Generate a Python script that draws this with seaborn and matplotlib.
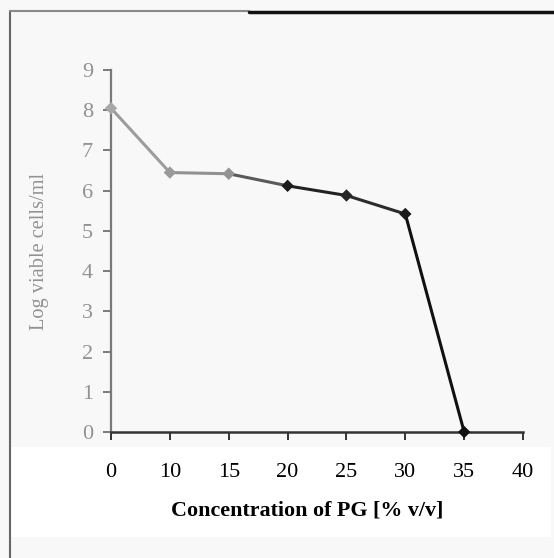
import pandas as pd
import matplotlib.pyplot as plt
import seaborn as sns
from matplotlib.lines import Line2D
from matplotlib.patches import Rectangle

# values
conc_labels = ["0", "10", "15", "20", "25", "30", "35", "40"]
log_cells = [8.05, 6.45, 6.42, 6.12, 5.88, 5.42, 0.0]
y_ticks = [0, 1, 2, 3, 4, 5, 6, 7, 8, 9]

# the scan fades from grey on the left to black on the right
seg_colors = ["#9c9c9c", "#929292", "#5a5a5a", "#222222", "#2c2c2c", "#111111"]
point_colors = ["#a8a8a8", "#9a9a9a", "#939393", "#1c1c1c", "#262626", "#1a1a1a", "#111111"]

rows = []
for i in range(len(log_cells) - 1):
    rows.append({"seg": i, "pos": i, "val": log_cells[i]})
    rows.append({"seg": i, "pos": i + 1, "val": log_cells[i + 1]})
seg_df = pd.DataFrame(rows)
pts = pd.DataFrame({"pt": range(len(log_cells)), "pos": range(len(log_cells)), "val": log_cells})

sns.set_style("ticks")
plt.rcParams["font.family"] = ["Liberation Serif", "DejaVu Serif"]

bg = "#f8f8f8"
fig = plt.figure(figsize=(5.54, 5.58), dpi=100, facecolor=bg)
ax = fig.add_axes([0.2004, 0.2258, 0.7437, 0.6488])
ax.set_facecolor(bg)

# white band behind the x tick labels / x label
fig.add_artist(Rectangle((0.02, 0.038), 0.975, 0.161, transform=fig.transFigure,
                         facecolor="white", edgecolor="none", zorder=0))
# scan border
fig.add_artist(Line2D([0.018, 0.018], [0.0, 0.98], transform=fig.transFigure, color="#666666", lw=1.5))
fig.add_artist(Line2D([0.018, 0.45], [0.98, 0.98], transform=fig.transFigure, color="#8a8a8a", lw=1.5))
fig.add_artist(Line2D([0.45, 1.0], [0.979, 0.979], transform=fig.transFigure, color="#111111", lw=2.5))

sns.lineplot(data=seg_df, x="pos", y="val", hue="seg", palette=seg_colors,
             legend=False, lw=2.2, ax=ax)
sns.scatterplot(data=pts, x="pos", y="val", hue="pt", palette=point_colors,
                marker="D", s=40, edgecolor="none", legend=False, ax=ax, zorder=3, clip_on=False)

ax.set_xlim(0, len(conc_labels) - 1)
ax.set_ylim(0, 9)
ax.set_xticks(range(len(conc_labels)))
ax.set_xticklabels(conc_labels)
ax.set_yticks(y_ticks)

ax.spines["top"].set_visible(False)
ax.spines["right"].set_visible(False)
ax.spines["left"].set_color("#7a7a7a")
ax.spines["left"].set_linewidth(1.6)
ax.spines["bottom"].set_color("#333333")
ax.spines["bottom"].set_linewidth(1.8)

ax.tick_params(axis="x", direction="out", length=6, width=1.4, color="#333333",
               labelsize=16, labelcolor="black", pad=16)
ax.tick_params(axis="y", direction="out", length=6, width=1.4, color="#7a7a7a",
               labelsize=16, labelcolor="#929292", pad=7)

ax.set_xlabel("Concentration of PG [% v/v]", fontsize=15.8, fontweight="bold",
              color="black")
ax.xaxis.set_label_coords(0.475, -0.19)
ax.set_ylabel("Log viable cells/ml", fontsize=14.7, color="#929292", labelpad=24)

fig.savefig("out.png", dpi=100, facecolor=bg)
